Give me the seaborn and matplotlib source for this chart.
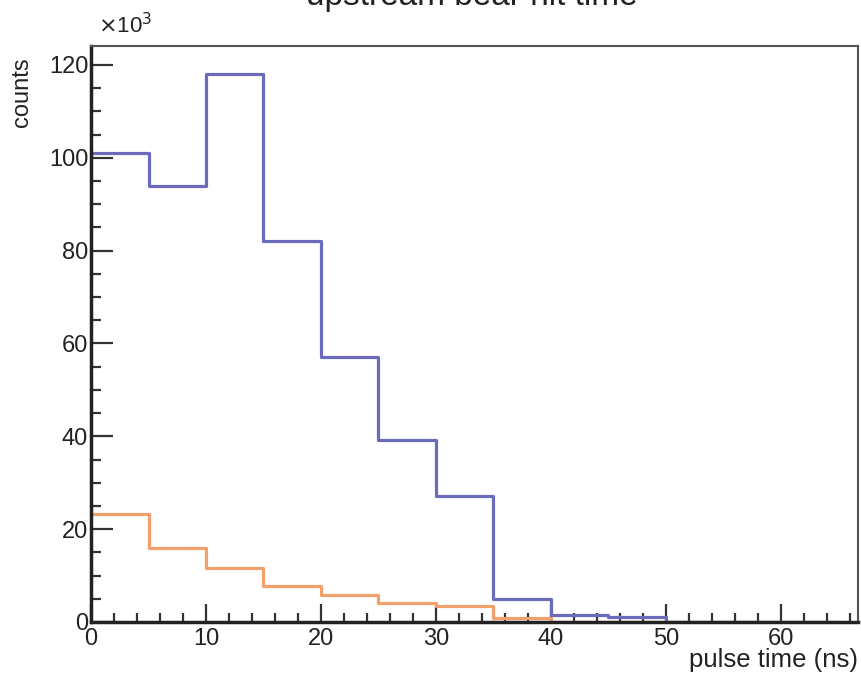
import numpy as np
import pandas as pd
import matplotlib
matplotlib.use("Agg")
import matplotlib.pyplot as plt
import seaborn as sns
from matplotlib.ticker import MultipleLocator

# bin edges (ns) and counts (x10^3)
bin_edges = [0, 5, 10, 15, 20, 25, 30, 35, 40, 45, 50, 55, 60, 65]
blue_counts = [101, 94, 118, 82, 57, 39.2, 27.2, 5.0, 1.6, 1.1, 0, 0, 0]
orange_counts = [23.3, 15.9, 11.6, 7.8, 5.8, 4.1, 3.4, 0.8, 0, 0, 0, 0, 0]
x_ticks = [0, 10, 20, 30, 40, 50, 60]
y_ticks = [0, 20, 40, 60, 80, 100, 120]

centers = [(a + b) / 2 for a, b in zip(bin_edges[:-1], bin_edges[1:])]
df = pd.DataFrame({"t": centers + centers,
                   "w": blue_counts + orange_counts,
                   "s": ["blue"] * len(centers) + ["orange"] * len(centers)})

sns.set_style("ticks")
plt.rcParams["font.family"] = ["Liberation Sans", "DejaVu Sans"]

fig = plt.figure(figsize=(8.61, 6.76), dpi=100)
ax = fig.add_axes([0.1057, 0.0799, 0.8908, 0.8521])

sns.histplot(data=df[df.s == "blue"], x="t", weights="w", bins=bin_edges,
             element="step", fill=False, color="#6b6bbd", linewidth=2.3, ax=ax)
sns.histplot(data=df[df.s == "orange"], x="t", weights="w", bins=bin_edges,
             element="step", fill=False, color="#f2a06c", linewidth=2.3, ax=ax)

ax.set_xlim(0, 66.7)
ax.set_ylim(0, 124.1)
ax.set_xticks(x_ticks)
ax.set_yticks(y_ticks)
ax.xaxis.set_minor_locator(MultipleLocator(2))
ax.yaxis.set_minor_locator(MultipleLocator(5))
ax.tick_params(axis="both", which="both", direction="in", colors="#333333",
               labelcolor="#222222", labelsize=17, width=1.6)
ax.tick_params(axis="x", which="major", length=13, pad=4)
ax.tick_params(axis="x", which="minor", length=6.5)
ax.tick_params(axis="y", which="major", length=16, pad=2)
ax.tick_params(axis="y", which="minor", length=7.5)
ax.set_xlabel("")
ax.set_ylabel("")

for side in ["top", "right"]:
    ax.spines[side].set_visible(True)
    ax.spines[side].set_color("#555555")
    ax.spines[side].set_linewidth(1.5)
for side in ["left", "bottom"]:
    ax.spines[side].set_color("#222222")
    ax.spines[side].set_linewidth(2.5)

fig.text(0.114, 0.943, r"$\times$10$^{3}$", fontsize=16, color="#222222",
         ha="left", va="bottom")
fig.text(0.026, 0.915, "counts", rotation=90, fontsize=17, color="#222222",
         ha="center", va="top")
fig.text(0.997, 0.006, "pulse time (ns)", fontsize=18.5, color="#222222",
         ha="right", va="bottom")
fig.text(0.548, 1 - 5 / 676, "upstream bear hit time", fontsize=24,
         color="#222222", ha="center", va="baseline")

fig.savefig("out.png", dpi=100)
